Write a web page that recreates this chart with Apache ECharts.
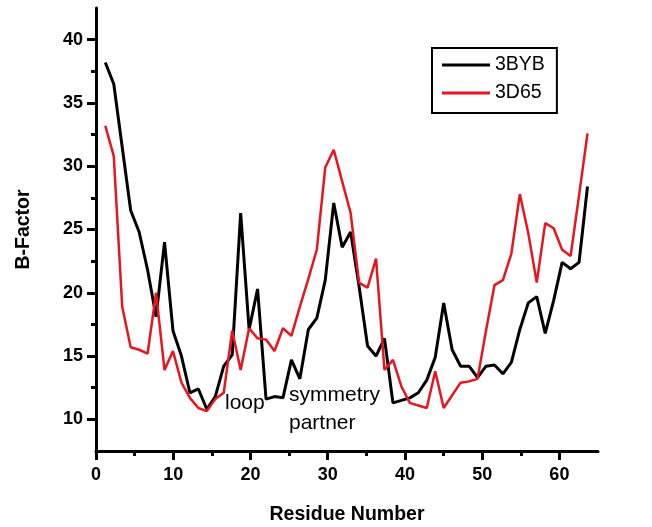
<!DOCTYPE html>
<html>
<head>
<meta charset="utf-8">
<title>B-Factor</title>
<script src="https://cdn.jsdelivr.net/npm/echarts@6/dist/echarts.min.js"></script>
<style>
  html, body { margin: 0; padding: 0; background: #fff; }
  #chart { width: 652px; height: 527px; }
</style>
</head>
<body>
<div id="chart"></div>
<script>
// residue index of every plotted point
var residues = [1, 2, 3, 4, 5, 6, 7, 8, 9, 10, 11, 12, 13, 14, 15, 16, 17, 18, 19, 20,
    21, 22, 23, 24, 25, 26, 27, 28, 29, 30, 31, 32, 33, 34, 35, 36, 37, 38, 39, 40,
    41, 42, 43, 44, 45, 46, 47, 48, 49, 50, 51, 52, 53, 54, 55, 56, 57, 58];

var bfac3BYB = [38.2, 36.5, 31.5, 26.5, 24.8, 21.8, 18.1, 24.0, 17.0, 15.0,
    12.1, 12.4, 10.8, 11.8, 14.2, 15.1, 26.3, 17.1, 20.3, 11.6,
    11.8, 11.7, 14.7, 13.2, 17.1, 18.0, 21.0, 27.1, 23.6, 24.8,
    20.5, 15.8, 15.0, 16.4, 11.3, 11.5, 11.7, 12.1, 13.1, 14.9,
    19.2, 15.5, 14.2, 14.2, 13.3, 14.2, 14.3, 13.6, 14.5, 17.1,
    19.2, 19.7, 16.8, 19.4, 22.4, 21.9, 22.4, 28.4];

var bfac3D65 = [33.2, 30.8, 18.9, 15.7, 15.5, 15.2, 20.0, 13.9, 15.4, 12.9,
    11.7, 10.9, 10.65, 11.6, 12.1, 17.0, 13.9, 17.2, 16.4, 16.3,
    15.4, 17.2, 16.6, 18.9, 21.1, 23.4, 29.9, 31.3, 28.8, 26.3,
    20.8, 20.4, 22.7, 13.9, 14.7, 12.6, 11.3, 11.1, 10.9, 13.8,
    10.9, 11.9, 12.9, 13.0, 13.2, 17.0, 20.6, 21.0, 23.1, 27.8,
    24.7, 20.8, 25.5, 25.1, 23.4, 22.9, 27.7, 32.6];

var xMajorTicks = [0, 10, 20, 30, 40, 50, 60];
var xMinorTicks = [5, 15, 25, 35, 45, 55];
var yMajorTicks = [10, 15, 20, 25, 30, 35, 40];
var yMinorTicks = [12.5, 17.5, 22.5, 27.5, 32.5, 37.5];

var FONT = 'Liberation Sans';

function pairs(vals) {
    return residues.map(function (r, i) { return [r, vals[i]]; });
}

var chart = echarts.init(document.getElementById('chart'), null, { renderer: 'canvas' });

chart.setOption({
    backgroundColor: '#fff',
    animation: false,
    grid: { left: 96, right: 54, top: 8, bottom: 76, outerBoundsMode: 'none', containLabel: false },
    legend: {
        data: [{ name: '3BYB', icon: 'rect' }, { name: '3D65', icon: 'rect' }],
        orient: 'vertical',
        left: 432,
        top: 48,
        padding: [7, 12, 10, 10],
        itemGap: 8,
        itemWidth: 48,
        itemHeight: 3,
        borderColor: '#000',
        borderWidth: 2,
        selectedMode: false,
        textStyle: { fontFamily: FONT, fontSize: 19.5, color: '#000', lineHeight: 18 }
    },
    xAxis: [{
        type: 'value',
        min: 0,
        max: 65,
        position: 'bottom',
        name: 'Residue Number',
        nameLocation: 'middle',
        nameGap: 54,
        nameTextStyle: { fontFamily: FONT, fontSize: 19.5, fontWeight: 'bold', color: '#000' },
        axisLine: { lineStyle: { color: '#000', width: 3 } },
        axisTick: { customValues: xMajorTicks, length: 9, lineStyle: { color: '#000', width: 3 } },
        axisLabel: {
            customValues: xMajorTicks, margin: 15,
            fontFamily: FONT, fontSize: 18, fontWeight: 'bold', color: '#000'
        },
        splitLine: { show: false }
    }, {
        type: 'value',
        min: 0,
        max: 65,
        position: 'bottom',
        axisLine: { show: false },
        axisTick: { customValues: xMinorTicks, length: 5, lineStyle: { color: '#000', width: 3 } },
        axisLabel: { show: false },
        splitLine: { show: false }
    }, {
        // points are spread a bit wider than the labelled scale in the source figure
        type: 'value',
        min: -0.1,
        max: 59.24,
        show: false
    }],
    yAxis: [{
        type: 'value',
        min: 7.5,
        max: 42.5,
        name: 'B-Factor',
        nameLocation: 'middle',
        nameGap: 62,
        nameTextStyle: { fontFamily: FONT, fontSize: 19.5, fontWeight: 'bold', color: '#000' },
        axisLine: { show: true, lineStyle: { color: '#000', width: 3 } },
        axisTick: { show: true, customValues: yMajorTicks, length: 9, lineStyle: { color: '#000', width: 3 } },
        axisLabel: {
            customValues: yMajorTicks, margin: 13,
            fontFamily: FONT, fontSize: 18, fontWeight: 'bold', color: '#000'
        },
        splitLine: { show: false }
    }, {
        type: 'value',
        min: 7.5,
        max: 42.5,
        position: 'left',
        axisLine: { show: false },
        axisTick: { show: true, customValues: yMinorTicks, length: 5, lineStyle: { color: '#000', width: 3 } },
        axisLabel: { show: false },
        splitLine: { show: false }
    }],
    graphic: [
        { type: 'text', left: 225, top: 393, style: { text: 'loop', font: '21px "Liberation Sans"', fill: '#000' } },
        { type: 'text', left: 289, top: 385, style: { text: 'symmetry', font: '21px "Liberation Sans"', fill: '#000' } },
        { type: 'text', left: 289, top: 413, style: { text: 'partner', font: '21px "Liberation Sans"', fill: '#000' } }
    ],
    series: [{
        name: '3BYB',
        type: 'line',
        xAxisIndex: 2,
        yAxisIndex: 0,
        symbol: 'none',
        color: '#000',
        lineStyle: { color: '#000', width: 3 },
        data: pairs(bfac3BYB)
    }, {
        name: '3D65',
        type: 'line',
        xAxisIndex: 2,
        yAxisIndex: 0,
        symbol: 'none',
        color: '#e8141e',
        lineStyle: { color: '#e8141e', width: 2.5 },
        data: pairs(bfac3D65)
    }]
});

window.addEventListener('resize', function () { chart.resize(); });
</script>
</body>
</html>
